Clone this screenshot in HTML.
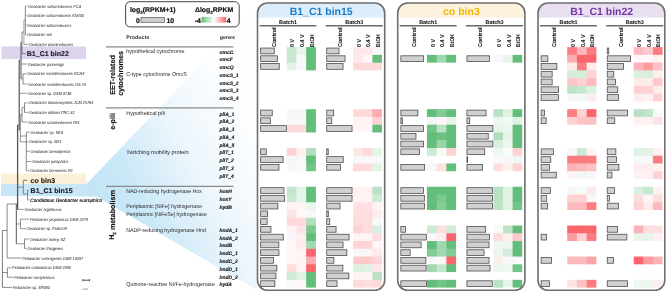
<!DOCTYPE html><html><head><meta charset="utf-8"><title>Geobacter expression</title>
<style>html,body{margin:0;padding:0;background:#fff;}svg{display:block;} text{font-family:'Liberation Sans', Arial, sans-serif;text-rendering:geometricPrecision;}</style></head><body>
<svg width="667" height="294" viewBox="0 0 667 294">
<defs><linearGradient id="wedge" gradientUnits="userSpaceOnUse" x1="95" y1="200" x2="250" y2="120"><stop offset="0" stop-color="#c4e5f6"/><stop offset="0.2" stop-color="#c8e7f7"/><stop offset="0.6" stop-color="#edf6fc"/><stop offset="1" stop-color="#fdfeff"/></linearGradient><linearGradient id="leg" x1="0" y1="0" x2="1" y2="0"><stop offset="0" stop-color="#62be7a"/><stop offset="0.5" stop-color="#ffffff"/><stop offset="1" stop-color="#fa666c"/></linearGradient></defs>
<rect x="1.5" y="46.4" width="84.5" height="12.7" fill="#ddd4ec"/>
<rect x="1" y="173.6" width="85.2" height="10.6" fill="#fdf0d8"/>
<polygon points="1,184.2 86.2,184.2 257,6 257,290 97,196.8 1,195.8" fill="url(#wedge)"/>
<rect x="1" y="184.2" width="86" height="11.6" fill="#c7e6f7"/>
<line x1="25.3" y1="6.1" x2="25.3" y2="34.9" stroke="#6c6c6c" stroke-width="0.80"/><line x1="25.3" y1="6.1" x2="27.6" y2="6.1" stroke="#6c6c6c" stroke-width="0.70"/><line x1="25.3" y1="15.6" x2="26.6" y2="15.6" stroke="#6c6c6c" stroke-width="0.70"/><line x1="25.3" y1="25.0" x2="26.6" y2="25.0" stroke="#6c6c6c" stroke-width="0.70"/><line x1="25.3" y1="34.9" x2="26.6" y2="34.9" stroke="#6c6c6c" stroke-width="0.70"/><line x1="23.9" y1="20.0" x2="23.9" y2="44.4" stroke="#8a8a8a" stroke-width="0.80"/><line x1="23.9" y1="20.0" x2="25.3" y2="20.0" stroke="#6c6c6c" stroke-width="0.70"/><line x1="23.9" y1="44.4" x2="28.4" y2="44.4" stroke="#6c6c6c" stroke-width="0.70"/><line x1="22.0" y1="32.0" x2="22.0" y2="53.6" stroke="#6c6c6c" stroke-width="0.80"/><line x1="22.0" y1="32.0" x2="23.9" y2="32.0" stroke="#6c6c6c" stroke-width="0.70"/><line x1="22.0" y1="53.6" x2="26.0" y2="53.6" stroke="#6c6c6c" stroke-width="0.70"/><line x1="21.0" y1="42.0" x2="21.0" y2="78.9" stroke="#555555" stroke-width="1.00"/><line x1="21.0" y1="42.0" x2="22.0" y2="42.0" stroke="#6c6c6c" stroke-width="0.70"/><line x1="21.0" y1="64.0" x2="27.3" y2="64.0" stroke="#6c6c6c" stroke-width="0.70"/><line x1="23.0" y1="73.7" x2="23.0" y2="84.0" stroke="#6c6c6c" stroke-width="0.80"/><line x1="21.0" y1="78.9" x2="23.0" y2="78.9" stroke="#6c6c6c" stroke-width="0.70"/><line x1="23.0" y1="73.7" x2="26.6" y2="73.7" stroke="#6c6c6c" stroke-width="0.70"/><line x1="23.0" y1="84.0" x2="27.6" y2="84.0" stroke="#6c6c6c" stroke-width="0.70"/><line x1="19.2" y1="60.0" x2="19.2" y2="130.6" stroke="#555555" stroke-width="1.20"/><line x1="19.2" y1="60.0" x2="21.0" y2="60.0" stroke="#6c6c6c" stroke-width="0.70"/><line x1="19.2" y1="93.3" x2="27.6" y2="93.3" stroke="#6c6c6c" stroke-width="0.70"/><line x1="24.5" y1="102.8" x2="24.5" y2="112.4" stroke="#6c6c6c" stroke-width="0.80"/><line x1="24.5" y1="102.8" x2="28.4" y2="102.8" stroke="#6c6c6c" stroke-width="0.70"/><line x1="24.5" y1="112.4" x2="28.4" y2="112.4" stroke="#6c6c6c" stroke-width="0.70"/><line x1="22.0" y1="107.6" x2="22.0" y2="122.0" stroke="#6c6c6c" stroke-width="0.80"/><line x1="22.0" y1="107.6" x2="24.5" y2="107.6" stroke="#6c6c6c" stroke-width="0.70"/><line x1="22.0" y1="122.0" x2="27.6" y2="122.0" stroke="#6c6c6c" stroke-width="0.70"/><line x1="20.4" y1="114.8" x2="20.4" y2="141.9" stroke="#8a8a8a" stroke-width="0.90"/><line x1="19.2" y1="114.8" x2="22.0" y2="114.8" stroke="#6c6c6c" stroke-width="0.70"/><line x1="20.4" y1="141.9" x2="28.4" y2="141.9" stroke="#6c6c6c" stroke-width="0.70"/><line x1="26.3" y1="132.1" x2="26.3" y2="170.8" stroke="#6c6c6c" stroke-width="0.80"/><line x1="26.3" y1="132.1" x2="29.9" y2="132.1" stroke="#6c6c6c" stroke-width="0.70"/><line x1="26.3" y1="151.2" x2="29.9" y2="151.2" stroke="#6c6c6c" stroke-width="0.70"/><line x1="26.3" y1="161.5" x2="31.5" y2="161.5" stroke="#6c6c6c" stroke-width="0.70"/><line x1="26.3" y1="170.8" x2="29.6" y2="170.8" stroke="#6c6c6c" stroke-width="0.70"/><line x1="20.4" y1="136.0" x2="26.3" y2="136.0" stroke="#6c6c6c" stroke-width="0.70"/><line x1="17.6" y1="125.0" x2="17.6" y2="209.4" stroke="#555555" stroke-width="1.30"/><line x1="17.6" y1="125.0" x2="19.2" y2="125.0" stroke="#6c6c6c" stroke-width="0.70"/><line x1="23.3" y1="180.3" x2="23.3" y2="194.0" stroke="#6c6c6c" stroke-width="0.80"/><line x1="23.3" y1="180.3" x2="27.2" y2="180.3" stroke="#555555" stroke-width="0.80"/><line x1="17.6" y1="187.3" x2="23.3" y2="187.3" stroke="#6c6c6c" stroke-width="0.70"/><line x1="23.3" y1="194.0" x2="27.6" y2="194.0" stroke="#6c6c6c" stroke-width="0.70"/><line x1="27.6" y1="190.2" x2="27.6" y2="199.9" stroke="#6c6c6c" stroke-width="0.80"/><line x1="27.6" y1="190.2" x2="28.6" y2="190.2" stroke="#6c6c6c" stroke-width="0.70"/><line x1="27.6" y1="199.9" x2="29.4" y2="199.9" stroke="#6c6c6c" stroke-width="0.70"/><line x1="16.3" y1="204.0" x2="16.3" y2="243.8" stroke="#555555" stroke-width="1.00"/><line x1="7.1" y1="204.0" x2="17.6" y2="204.0" stroke="#6c6c6c" stroke-width="0.80"/><line x1="16.3" y1="209.4" x2="23.8" y2="209.4" stroke="#6c6c6c" stroke-width="0.70"/><line x1="20.4" y1="219.1" x2="20.4" y2="228.7" stroke="#6c6c6c" stroke-width="0.80"/><line x1="20.4" y1="219.1" x2="29.2" y2="219.1" stroke="#6c6c6c" stroke-width="0.70"/><line x1="20.4" y1="228.7" x2="26.6" y2="228.7" stroke="#6c6c6c" stroke-width="0.70"/><line x1="16.3" y1="224.0" x2="20.4" y2="224.0" stroke="#6c6c6c" stroke-width="0.70"/><line x1="16.3" y1="243.8" x2="24.5" y2="243.8" stroke="#6c6c6c" stroke-width="0.70"/><line x1="24.5" y1="239.0" x2="24.5" y2="248.4" stroke="#6c6c6c" stroke-width="0.80"/><line x1="24.5" y1="239.0" x2="29.2" y2="239.0" stroke="#6c6c6c" stroke-width="0.70"/><line x1="24.5" y1="248.4" x2="26.9" y2="248.4" stroke="#6c6c6c" stroke-width="0.70"/><line x1="7.1" y1="204.0" x2="7.1" y2="258.0" stroke="#8a8a8a" stroke-width="1.00"/><line x1="7.1" y1="258.0" x2="21.5" y2="258.0" stroke="#8a8a8a" stroke-width="1.00"/><line x1="2.4" y1="230.5" x2="2.4" y2="287.4" stroke="#6c6c6c" stroke-width="0.90"/><line x1="2.4" y1="230.5" x2="7.1" y2="230.5" stroke="#6c6c6c" stroke-width="0.80"/><line x1="2.4" y1="272.5" x2="7.4" y2="272.5" stroke="#6c6c6c" stroke-width="0.80"/><line x1="7.4" y1="267.8" x2="7.4" y2="277.3" stroke="#6c6c6c" stroke-width="0.80"/><line x1="7.4" y1="267.8" x2="11.6" y2="267.8" stroke="#6c6c6c" stroke-width="0.70"/><line x1="7.4" y1="277.3" x2="13.5" y2="277.3" stroke="#6c6c6c" stroke-width="0.70"/><line x1="2.4" y1="287.4" x2="12.1" y2="287.4" stroke="#6c6c6c" stroke-width="0.80"/>
<line x1="82.6" y1="280.2" x2="89.7" y2="280.2" stroke="#222" stroke-width="0.8"/><line x1="82.8" y1="279" x2="82.8" y2="281.4" stroke="#222" stroke-width="0.6"/><line x1="89.5" y1="279" x2="89.5" y2="281.4" stroke="#222" stroke-width="0.6"/>
<text x="82.6" y="289.5" font-size="2.6" fill="#444">0.05</text>
<text x="28.3" y="7.6" font-size="4.3" font-style="italic" fill="#222" textLength="52.9" lengthAdjust="spacingAndGlyphs">Geobacter sulfurreducens PCA</text>
<text x="27.3" y="17.1" font-size="4.3" font-style="italic" fill="#222" textLength="56.7" lengthAdjust="spacingAndGlyphs">Geobacter sulfurreducens KN400</text>
<text x="27.3" y="26.5" font-size="4.3" font-style="italic" fill="#222" textLength="44.0" lengthAdjust="spacingAndGlyphs">Geobacter sulfurreducens</text>
<text x="27.3" y="36.4" font-size="4.3" font-style="italic" fill="#222" textLength="24.6" lengthAdjust="spacingAndGlyphs">Geobacter soli</text>
<text x="29.1" y="45.9" font-size="4.3" font-style="italic" fill="#222" textLength="44.0" lengthAdjust="spacingAndGlyphs">Geobacter anodireducens</text>
<text x="26.8" y="56.1" font-size="7" font-weight="bold" fill="#1e1e2a" stroke="#1e1e2a" stroke-width="0.15">B1_C1 bin22</text>
<text x="28.0" y="65.5" font-size="4.3" font-style="italic" fill="#222" textLength="35.9" lengthAdjust="spacingAndGlyphs">Geobacter pickeringii</text>
<text x="27.3" y="75.2" font-size="4.3" font-style="italic" fill="#222" textLength="57.1" lengthAdjust="spacingAndGlyphs">Geobacter metallireducens RCH3</text>
<text x="28.3" y="85.5" font-size="4.3" font-style="italic" fill="#222" textLength="57.8" lengthAdjust="spacingAndGlyphs">Geobacter metallireducens GS-15</text>
<text x="28.3" y="94.8" font-size="4.3" font-style="italic" fill="#222" textLength="43.1" lengthAdjust="spacingAndGlyphs">Geobacter sp. DSM 9736</text>
<text x="29.1" y="104.3" font-size="4.3" font-style="italic" fill="#222" textLength="64.2" lengthAdjust="spacingAndGlyphs">Geobacter toluenoxydans JCM 15764</text>
<text x="29.1" y="113.9" font-size="4.3" font-style="italic" fill="#222" textLength="45.5" lengthAdjust="spacingAndGlyphs">Geobacter daltonii FRC-32</text>
<text x="28.3" y="123.5" font-size="4.3" font-style="italic" fill="#222" textLength="51.0" lengthAdjust="spacingAndGlyphs">Geobacter uraniireducens Rf4</text>
<text x="30.6" y="133.6" font-size="4.3" font-style="italic" fill="#222" textLength="32.5" lengthAdjust="spacingAndGlyphs">Geobacter sp. M18</text>
<text x="29.1" y="143.4" font-size="4.3" font-style="italic" fill="#222" textLength="32.5" lengthAdjust="spacingAndGlyphs">Geobacter sp. M21</text>
<text x="30.6" y="152.7" font-size="4.3" font-style="italic" fill="#222" textLength="39.9" lengthAdjust="spacingAndGlyphs">Geobacter bemidjiensis</text>
<text x="32.2" y="163.0" font-size="4.3" font-style="italic" fill="#222" textLength="36.1" lengthAdjust="spacingAndGlyphs">Geobacter pelophilus</text>
<text x="30.3" y="172.3" font-size="4.3" font-style="italic" fill="#222" textLength="42.5" lengthAdjust="spacingAndGlyphs">Geobacter bremensis R1</text>
<text x="30.6" y="182.9" font-size="7" font-weight="bold" fill="#2a2418" stroke="#2a2418" stroke-width="0.15">co bin3</text>
<text x="30.6" y="192.7" font-size="7" font-weight="bold" fill="#1e1e2a" stroke="#1e1e2a" stroke-width="0.15">B1_C1 bin15</text>
<text x="30.2" y="201.6" font-size="4.8" font-style="italic" fill="#000" stroke="#000" stroke-width="0.12">Candidatus Geobacter eutrophica</text>
<text x="24.5" y="210.9" font-size="4.3" font-style="italic" fill="#222" textLength="37.2" lengthAdjust="spacingAndGlyphs">Geobacter argillaceus</text>
<text x="29.9" y="220.6" font-size="4.3" font-style="italic" fill="#222" textLength="58.0" lengthAdjust="spacingAndGlyphs">Pelobacter propionicus DSM 2379</text>
<text x="27.3" y="230.2" font-size="4.3" font-style="italic" fill="#222" textLength="39.5" lengthAdjust="spacingAndGlyphs">Geobacter sp. FeAm09</text>
<text x="29.9" y="240.5" font-size="4.3" font-style="italic" fill="#222" textLength="35.5" lengthAdjust="spacingAndGlyphs">Geobacter lovleyi SZ</text>
<text x="27.6" y="249.9" font-size="4.3" font-style="italic" fill="#222" textLength="35.5" lengthAdjust="spacingAndGlyphs">Geobacter thiogenes</text>
<text x="22.2" y="259.5" font-size="4.3" font-style="italic" fill="#222" textLength="61.0" lengthAdjust="spacingAndGlyphs">Pelobacter selenigenes DSM 18267</text>
<text x="12.3" y="269.3" font-size="4.3" font-style="italic" fill="#222" textLength="58.6" lengthAdjust="spacingAndGlyphs">Pelobacter carbinolicus DSM 2380</text>
<text x="14.2" y="278.8" font-size="4.3" font-style="italic" fill="#222" textLength="40.4" lengthAdjust="spacingAndGlyphs">Pelobacter acetylenicus</text>
<text x="12.8" y="288.9" font-size="4.3" font-style="italic" fill="#222" textLength="37.2" lengthAdjust="spacingAndGlyphs">Pelobacter sp. SFB93</text>
<rect x="125.6" y="1.7" width="113.6" height="25.2" rx="4.5" ry="4.5" fill="#fff" stroke="#444" stroke-width="1"/>
<text x="129.9" y="11.9" font-size="6.9" font-weight="bold" fill="#111" stroke="#111" stroke-width="0.2">log<tspan font-size="4.6" dy="1.7">2</tspan><tspan dy="-1.7">(RPKM+1)</tspan></text>
<text x="195" y="11.9" font-size="6.9" font-weight="bold" fill="#111" stroke="#111" stroke-width="0.2">Δlog<tspan font-size="4.6" dy="1.7">2</tspan><tspan dy="-1.7">RPKM</tspan></text>
<text x="136.0" y="22.9" font-size="6.9" font-weight="bold" fill="#111" stroke="#111" stroke-width="0.2">0</text>
<rect x="141" y="17.5" width="23.6" height="4.8" fill="#cfcfcf" stroke="#555" stroke-width="0.7"/>
<text x="166.5" y="22.9" font-size="6.9" font-weight="bold" fill="#111" stroke="#111" stroke-width="0.2">10</text>
<text x="194.8" y="22.9" font-size="6.9" font-weight="bold" fill="#111" stroke="#111" stroke-width="0.2">-4</text>
<rect x="201.5" y="16.9" width="24.6" height="5.7" fill="url(#leg)"/>
<text x="226.8" y="22.9" font-size="6.9" font-weight="bold" fill="#111" stroke="#111" stroke-width="0.2">4</text>
<text x="126.2" y="39.2" font-size="5.3" font-weight="bold" fill="#333">Products</text>
<text x="219.7" y="39.2" font-size="5.3" font-weight="bold" fill="#333">genes</text>
<line x1="106" y1="46.8" x2="233.5" y2="46.8" stroke="#8a8a8a" stroke-width="1.2"/>
<line x1="106" y1="107.8" x2="233.5" y2="107.8" stroke="#8a8a8a" stroke-width="1.2"/>
<line x1="106" y1="186.4" x2="233.5" y2="186.4" stroke="#8a8a8a" stroke-width="1.2"/>
<text transform="translate(112.4 75.0) rotate(-90)" text-anchor="middle" font-size="7.2" font-weight="bold" fill="#111" stroke="#111" stroke-width="0.15" dominant-baseline="central">EET-related</text>
<text transform="translate(120.4 73.4) rotate(-90)" text-anchor="middle" font-size="7.2" font-weight="bold" fill="#111" stroke="#111" stroke-width="0.15" dominant-baseline="central">cytochromes</text>
<text transform="translate(112.3 121.4) rotate(-90)" text-anchor="middle" font-size="7.2" font-weight="bold" fill="#111" stroke="#111" stroke-width="0.15" dominant-baseline="central">e-pili</text>
<text transform="translate(111.8 215.0) rotate(-90)" text-anchor="middle" font-size="7.2" font-weight="bold" fill="#111" stroke="#111" stroke-width="0.15" dominant-baseline="central">H<tspan font-size="4.6" dy="1.8">2</tspan><tspan dy="-1.8"> metabolism</tspan></text>
<text x="126.2" y="53.1" font-size="5.6" fill="#2a2a2a" textLength="58.4" lengthAdjust="spacingAndGlyphs">hypothetical cytochrome</text>
<text x="126.2" y="76.4" font-size="5.6" fill="#2a2a2a" textLength="60.5" lengthAdjust="spacingAndGlyphs">C-type cytochrome OmcS</text>
<text x="126.2" y="115.1" font-size="5.6" fill="#2a2a2a" textLength="38.7" lengthAdjust="spacingAndGlyphs">Hypothetical pili</text>
<text x="126.2" y="153.9" font-size="5.6" fill="#2a2a2a" textLength="62.5" lengthAdjust="spacingAndGlyphs">Twitching mobility protein</text>
<text x="126.2" y="192.7" font-size="5.6" fill="#2a2a2a" textLength="75.7" lengthAdjust="spacingAndGlyphs">NAD-reducing hydrogenase Hox</text>
<text x="126.2" y="208.2" font-size="5.6" fill="#2a2a2a" textLength="75.7" lengthAdjust="spacingAndGlyphs">Periplasmic [NiFe] hydrogenase</text>
<text x="126.2" y="216.0" font-size="5.6" fill="#2a2a2a" textLength="80.7" lengthAdjust="spacingAndGlyphs">Periplasmic [NiFeSe] hydrogenase</text>
<text x="126.2" y="231.5" font-size="5.6" fill="#2a2a2a" textLength="79.7" lengthAdjust="spacingAndGlyphs">NADP-reducing hydrogenase Hnd</text>
<text x="126.2" y="285.8" font-size="5.6" fill="#2a2a2a" textLength="88.5" lengthAdjust="spacingAndGlyphs">Quinone-reactive Ni/Fe-hydrogenase</text>
<text x="219.4" y="53.5" font-size="5.0" font-weight="bold" font-style="italic" fill="#111" stroke="#111" stroke-width="0.1">omcC</text>
<text x="219.4" y="61.2" font-size="5.0" font-weight="bold" font-style="italic" fill="#111" stroke="#111" stroke-width="0.1">omcF</text>
<text x="219.4" y="69.0" font-size="5.0" font-weight="bold" font-style="italic" fill="#111" stroke="#111" stroke-width="0.1">omcQ</text>
<text x="219.4" y="76.8" font-size="5.0" font-weight="bold" font-style="italic" fill="#111" stroke="#111" stroke-width="0.1">omcS_1</text>
<text x="219.4" y="84.5" font-size="5.0" font-weight="bold" font-style="italic" fill="#111" stroke="#111" stroke-width="0.1">omcS_2</text>
<text x="219.4" y="92.3" font-size="5.0" font-weight="bold" font-style="italic" fill="#111" stroke="#111" stroke-width="0.1">omcS_3</text>
<text x="219.4" y="100.0" font-size="5.0" font-weight="bold" font-style="italic" fill="#111" stroke="#111" stroke-width="0.1">omcS_4</text>
<text x="219.4" y="115.5" font-size="5.0" font-weight="bold" font-style="italic" fill="#111" stroke="#111" stroke-width="0.1">pilA_1</text>
<text x="219.4" y="123.3" font-size="5.0" font-weight="bold" font-style="italic" fill="#111" stroke="#111" stroke-width="0.1">pilA_2</text>
<text x="219.4" y="131.1" font-size="5.0" font-weight="bold" font-style="italic" fill="#111" stroke="#111" stroke-width="0.1">pilA_3</text>
<text x="219.4" y="138.8" font-size="5.0" font-weight="bold" font-style="italic" fill="#111" stroke="#111" stroke-width="0.1">pilA_4</text>
<text x="219.4" y="146.6" font-size="5.0" font-weight="bold" font-style="italic" fill="#111" stroke="#111" stroke-width="0.1">pilA_5</text>
<text x="219.4" y="154.3" font-size="5.0" font-weight="bold" font-style="italic" fill="#111" stroke="#111" stroke-width="0.1">pilT_1</text>
<text x="219.4" y="162.1" font-size="5.0" font-weight="bold" font-style="italic" fill="#111" stroke="#111" stroke-width="0.1">pilT_2</text>
<text x="219.4" y="169.8" font-size="5.0" font-weight="bold" font-style="italic" fill="#111" stroke="#111" stroke-width="0.1">pilT_3</text>
<text x="219.4" y="177.6" font-size="5.0" font-weight="bold" font-style="italic" fill="#111" stroke="#111" stroke-width="0.1">pilT_4</text>
<text x="219.4" y="193.1" font-size="5.0" font-weight="bold" font-style="italic" fill="#111" stroke="#111" stroke-width="0.1">hoxH</text>
<text x="219.4" y="200.9" font-size="5.0" font-weight="bold" font-style="italic" fill="#111" stroke="#111" stroke-width="0.1">hoxY</text>
<text x="219.4" y="208.6" font-size="5.0" font-weight="bold" font-style="italic" fill="#111" stroke="#111" stroke-width="0.1">hydB</text>
<text x="219.4" y="231.9" font-size="5.0" font-weight="bold" font-style="italic" fill="#111" stroke="#111" stroke-width="0.1">hndA_1</text>
<text x="219.4" y="239.7" font-size="5.0" font-weight="bold" font-style="italic" fill="#111" stroke="#111" stroke-width="0.1">hndA_2</text>
<text x="219.4" y="247.4" font-size="5.0" font-weight="bold" font-style="italic" fill="#111" stroke="#111" stroke-width="0.1">hndB</text>
<text x="219.4" y="255.2" font-size="5.0" font-weight="bold" font-style="italic" fill="#111" stroke="#111" stroke-width="0.1">hndC_1</text>
<text x="219.4" y="262.9" font-size="5.0" font-weight="bold" font-style="italic" fill="#111" stroke="#111" stroke-width="0.1">hndC_2</text>
<text x="219.4" y="270.7" font-size="5.0" font-weight="bold" font-style="italic" fill="#111" stroke="#111" stroke-width="0.1">hndD_1</text>
<text x="219.4" y="278.5" font-size="5.0" font-weight="bold" font-style="italic" fill="#111" stroke="#111" stroke-width="0.1">hndD_2</text>
<text x="219.4" y="286.2" font-size="5.0" font-weight="bold" font-style="italic" fill="#111" stroke="#111" stroke-width="0.1">hydA</text>
<clipPath id="cp0"><rect x="257.5" y="3" width="127.2" height="287.3" rx="10" ry="10"/></clipPath>
<rect x="257.5" y="3" width="127.2" height="14.6" fill="#ddeefa" clip-path="url(#cp0)"/>
<text x="321.2" y="14.6" text-anchor="middle" font-size="10.5" font-weight="bold" fill="#1c7ccc">B1_C1 bin15</text>
<text x="288.0" y="23.6" text-anchor="middle" font-size="5.4" font-weight="bold" fill="#222" stroke="#222" stroke-width="0.08">Batch1</text>
<line x1="259.5" y1="25.7" x2="316.4" y2="25.7" stroke="#6a6a6a" stroke-width="1.4"/>
<text transform="translate(274.9 46.9) rotate(-90)" font-size="5.7" font-weight="bold" fill="#1a1a1a" stroke="#1a1a1a" stroke-width="0.1" dominant-baseline="central" textLength="19.4" lengthAdjust="spacingAndGlyphs">Control</text>
<text transform="translate(293.3 46.9) rotate(-90)" font-size="5.7" font-weight="bold" fill="#1a1a1a" stroke="#1a1a1a" stroke-width="0.1" dominant-baseline="central" textLength="7.8" lengthAdjust="spacingAndGlyphs">0 V</text>
<text transform="translate(303.0 46.9) rotate(-90)" font-size="5.7" font-weight="bold" fill="#1a1a1a" stroke="#1a1a1a" stroke-width="0.1" dominant-baseline="central" textLength="12.5" lengthAdjust="spacingAndGlyphs">0.4 V</text>
<text transform="translate(312.7 46.9) rotate(-90)" font-size="5.7" font-weight="bold" fill="#1a1a1a" stroke="#1a1a1a" stroke-width="0.1" dominant-baseline="central" textLength="12.6" lengthAdjust="spacingAndGlyphs">EtOH</text>
<rect x="286.70" y="47.10" width="10.33" height="8.36" fill="#c6e8cf"/>
<rect x="296.43" y="47.10" width="10.33" height="8.36" fill="#e7f5eb"/>
<rect x="306.16" y="47.10" width="9.73" height="8.36" fill="#62be7a"/>
<rect x="260.65" y="48.05" width="13.60" height="5.75" fill="#d0d0d0" stroke="#4e4e4e" stroke-width="0.8"/>
<rect x="286.70" y="54.86" width="10.33" height="8.36" fill="#c6e8cf"/>
<rect x="296.43" y="54.86" width="10.33" height="8.36" fill="#f8f8fb"/>
<rect x="306.16" y="54.86" width="9.73" height="8.36" fill="#62be7a"/>
<rect x="260.65" y="55.81" width="16.70" height="5.75" fill="#d0d0d0" stroke="#4e4e4e" stroke-width="0.8"/>
<rect x="286.70" y="62.62" width="10.33" height="7.76" fill="#e3f3e7"/>
<rect x="296.43" y="62.62" width="10.33" height="7.76" fill="#f8f8fb"/>
<rect x="306.16" y="62.62" width="9.73" height="7.76" fill="#62be7a"/>
<rect x="260.65" y="63.57" width="18.60" height="5.75" fill="#d0d0d0" stroke="#4e4e4e" stroke-width="0.8"/>
<rect x="286.70" y="109.16" width="10.33" height="8.36" fill="#f8f8fb"/>
<rect x="296.43" y="109.16" width="10.33" height="8.36" fill="#f8f8fb"/>
<rect x="306.16" y="109.16" width="9.73" height="8.36" fill="#62be7a"/>
<rect x="260.65" y="110.11" width="11.60" height="5.75" fill="#d0d0d0" stroke="#4e4e4e" stroke-width="0.8"/>
<rect x="286.70" y="116.92" width="10.33" height="8.36" fill="#f8f8fb"/>
<rect x="296.43" y="116.92" width="10.33" height="8.36" fill="#f8f8fb"/>
<rect x="306.16" y="116.92" width="9.73" height="8.36" fill="#62be7a"/>
<rect x="260.65" y="117.87" width="9.70" height="5.75" fill="#d0d0d0" stroke="#4e4e4e" stroke-width="0.8"/>
<rect x="286.70" y="124.68" width="10.33" height="7.76" fill="#fed9da"/>
<rect x="296.43" y="124.68" width="10.33" height="7.76" fill="#fed9da"/>
<rect x="306.16" y="124.68" width="9.73" height="7.76" fill="#62be7a"/>
<rect x="260.65" y="125.63" width="25.70" height="5.75" fill="#d0d0d0" stroke="#4e4e4e" stroke-width="0.8"/>
<rect x="286.70" y="147.95" width="10.33" height="8.36" fill="#fed1d3"/>
<rect x="296.43" y="147.95" width="10.33" height="8.36" fill="#fef0f0"/>
<rect x="306.16" y="147.95" width="9.73" height="8.36" fill="#b0debc"/>
<rect x="260.65" y="148.90" width="5.60" height="5.75" fill="#d0d0d0" stroke="#4e4e4e" stroke-width="0.8"/>
<rect x="286.70" y="155.71" width="10.33" height="8.36" fill="#f8f8fb"/>
<rect x="296.43" y="155.71" width="10.33" height="8.36" fill="#f8f8fb"/>
<rect x="306.16" y="155.71" width="9.73" height="8.36" fill="#62be7a"/>
<rect x="260.65" y="156.66" width="22.50" height="5.75" fill="#d0d0d0" stroke="#4e4e4e" stroke-width="0.8"/>
<rect x="286.70" y="163.47" width="10.33" height="7.76" fill="#f8f8fb"/>
<rect x="296.43" y="163.47" width="10.33" height="7.76" fill="#fff6f6"/>
<rect x="306.16" y="163.47" width="9.73" height="7.76" fill="#72c487"/>
<rect x="260.65" y="164.42" width="18.30" height="5.75" fill="#d0d0d0" stroke="#4e4e4e" stroke-width="0.8"/>
<rect x="286.70" y="186.74" width="10.33" height="8.36" fill="#c3e6cc"/>
<rect x="296.43" y="186.74" width="10.33" height="8.36" fill="#e6f5ea"/>
<rect x="306.16" y="186.74" width="9.73" height="8.36" fill="#62be7a"/>
<rect x="260.65" y="187.69" width="23.30" height="5.75" fill="#d0d0d0" stroke="#4e4e4e" stroke-width="0.8"/>
<rect x="286.70" y="194.50" width="10.33" height="8.36" fill="#cbead3"/>
<rect x="296.43" y="194.50" width="10.33" height="8.36" fill="#e7f5eb"/>
<rect x="306.16" y="194.50" width="9.73" height="8.36" fill="#62be7a"/>
<rect x="260.65" y="195.45" width="24.00" height="5.75" fill="#d0d0d0" stroke="#4e4e4e" stroke-width="0.8"/>
<rect x="286.70" y="202.26" width="10.33" height="8.36" fill="#fff3f3"/>
<rect x="296.43" y="202.26" width="10.33" height="8.36" fill="#fff3f3"/>
<rect x="306.16" y="202.26" width="9.73" height="8.36" fill="#e9f6ec"/>
<rect x="260.65" y="203.21" width="17.20" height="5.75" fill="#d0d0d0" stroke="#4e4e4e" stroke-width="0.8"/>
<rect x="286.70" y="210.02" width="10.33" height="8.36" fill="#fee3e5"/>
<rect x="296.43" y="210.02" width="10.33" height="8.36" fill="#fff7f8"/>
<rect x="306.16" y="210.02" width="9.73" height="8.36" fill="#f8f8fb"/>
<rect x="260.65" y="210.97" width="6.90" height="5.75" fill="#d0d0d0" stroke="#4e4e4e" stroke-width="0.8"/>
<rect x="286.70" y="217.78" width="10.33" height="8.36" fill="#fed9da"/>
<rect x="296.43" y="217.78" width="10.33" height="8.36" fill="#fed9da"/>
<rect x="306.16" y="217.78" width="9.73" height="8.36" fill="#b0debc"/>
<rect x="260.65" y="218.73" width="6.50" height="5.75" fill="#d0d0d0" stroke="#4e4e4e" stroke-width="0.8"/>
<rect x="286.70" y="225.53" width="10.33" height="8.36" fill="#fff3f3"/>
<rect x="296.43" y="225.53" width="10.33" height="8.36" fill="#fee3e5"/>
<rect x="306.16" y="225.53" width="9.73" height="8.36" fill="#7ac88e"/>
<rect x="260.65" y="226.48" width="10.30" height="5.75" fill="#d0d0d0" stroke="#4e4e4e" stroke-width="0.8"/>
<rect x="286.70" y="233.29" width="10.33" height="8.36" fill="#f8f8fb"/>
<rect x="296.43" y="233.29" width="10.33" height="8.36" fill="#feeded"/>
<rect x="306.16" y="233.29" width="9.73" height="8.36" fill="#62be7a"/>
<rect x="260.65" y="234.24" width="22.60" height="5.75" fill="#d0d0d0" stroke="#4e4e4e" stroke-width="0.8"/>
<rect x="286.70" y="241.05" width="10.33" height="8.36" fill="#fff6f6"/>
<rect x="296.43" y="241.05" width="10.33" height="8.36" fill="#feeaea"/>
<rect x="306.16" y="241.05" width="9.73" height="8.36" fill="#a1d8af"/>
<rect x="260.65" y="242.00" width="18.20" height="5.75" fill="#d0d0d0" stroke="#4e4e4e" stroke-width="0.8"/>
<rect x="286.70" y="248.81" width="10.33" height="8.36" fill="#fff6f6"/>
<rect x="296.43" y="248.81" width="10.33" height="8.36" fill="#fff3f3"/>
<rect x="306.16" y="248.81" width="9.73" height="8.36" fill="#fa666c"/>
<rect x="260.65" y="249.76" width="18.30" height="5.75" fill="#d0d0d0" stroke="#4e4e4e" stroke-width="0.8"/>
<rect x="286.70" y="256.57" width="10.33" height="8.36" fill="#fff6f6"/>
<rect x="296.43" y="256.57" width="10.33" height="8.36" fill="#fff3f3"/>
<rect x="306.16" y="256.57" width="9.73" height="8.36" fill="#fcabae"/>
<rect x="260.65" y="257.52" width="12.80" height="5.75" fill="#d0d0d0" stroke="#4e4e4e" stroke-width="0.8"/>
<rect x="286.70" y="264.32" width="10.33" height="8.36" fill="#fedddf"/>
<rect x="296.43" y="264.32" width="10.33" height="8.36" fill="#fff3f3"/>
<rect x="306.16" y="264.32" width="9.73" height="8.36" fill="#fa666c"/>
<rect x="260.65" y="265.27" width="16.20" height="5.75" fill="#d0d0d0" stroke="#4e4e4e" stroke-width="0.8"/>
<rect x="286.70" y="272.08" width="10.33" height="8.36" fill="#cdead4"/>
<rect x="296.43" y="272.08" width="10.33" height="8.36" fill="#e0f2e4"/>
<rect x="306.16" y="272.08" width="9.73" height="8.36" fill="#62be7a"/>
<rect x="260.65" y="273.03" width="15.30" height="5.75" fill="#d0d0d0" stroke="#4e4e4e" stroke-width="0.8"/>
<rect x="286.70" y="279.84" width="10.33" height="7.76" fill="#f8f8fb"/>
<rect x="296.43" y="279.84" width="10.33" height="7.76" fill="#fff6f6"/>
<rect x="306.16" y="279.84" width="9.73" height="7.76" fill="#62be7a"/>
<rect x="260.65" y="280.79" width="14.20" height="5.75" fill="#d0d0d0" stroke="#4e4e4e" stroke-width="0.8"/>
<text x="354.3" y="23.6" text-anchor="middle" font-size="5.4" font-weight="bold" fill="#222" stroke="#222" stroke-width="0.08">Batch3</text>
<line x1="325.7" y1="25.7" x2="382.8" y2="25.7" stroke="#6a6a6a" stroke-width="1.4"/>
<text transform="translate(341.0 46.9) rotate(-90)" font-size="5.7" font-weight="bold" fill="#1a1a1a" stroke="#1a1a1a" stroke-width="0.1" dominant-baseline="central" textLength="19.4" lengthAdjust="spacingAndGlyphs">Control</text>
<text transform="translate(359.7 46.9) rotate(-90)" font-size="5.7" font-weight="bold" fill="#1a1a1a" stroke="#1a1a1a" stroke-width="0.1" dominant-baseline="central" textLength="7.8" lengthAdjust="spacingAndGlyphs">0 V</text>
<text transform="translate(369.3 46.9) rotate(-90)" font-size="5.7" font-weight="bold" fill="#1a1a1a" stroke="#1a1a1a" stroke-width="0.1" dominant-baseline="central" textLength="12.5" lengthAdjust="spacingAndGlyphs">0.4 V</text>
<text transform="translate(378.9 46.9) rotate(-90)" font-size="5.7" font-weight="bold" fill="#1a1a1a" stroke="#1a1a1a" stroke-width="0.1" dominant-baseline="central" textLength="12.6" lengthAdjust="spacingAndGlyphs">EtOH</text>
<rect x="353.20" y="47.10" width="10.20" height="8.36" fill="#fee8e9"/>
<rect x="362.80" y="47.10" width="10.20" height="8.36" fill="#fee8e9"/>
<rect x="372.40" y="47.10" width="9.60" height="8.36" fill="#f8f8fb"/>
<rect x="326.75" y="48.05" width="12.30" height="5.75" fill="#d0d0d0" stroke="#4e4e4e" stroke-width="0.8"/>
<rect x="353.20" y="54.86" width="10.20" height="8.36" fill="#fee8e9"/>
<rect x="362.80" y="54.86" width="10.20" height="8.36" fill="#fff6f6"/>
<rect x="372.40" y="54.86" width="9.60" height="8.36" fill="#62be7a"/>
<rect x="326.75" y="55.81" width="18.30" height="5.75" fill="#d0d0d0" stroke="#4e4e4e" stroke-width="0.8"/>
<rect x="353.20" y="62.62" width="10.20" height="7.76" fill="#fed9da"/>
<rect x="362.80" y="62.62" width="10.20" height="7.76" fill="#fed9da"/>
<rect x="372.40" y="62.62" width="9.60" height="7.76" fill="#fed9da"/>
<rect x="326.75" y="63.57" width="16.30" height="5.75" fill="#d0d0d0" stroke="#4e4e4e" stroke-width="0.8"/>
<rect x="353.20" y="109.16" width="10.20" height="8.36" fill="#fed9da"/>
<rect x="362.80" y="109.16" width="10.20" height="8.36" fill="#fed9da"/>
<rect x="372.40" y="109.16" width="9.60" height="8.36" fill="#fcabae"/>
<rect x="326.75" y="110.11" width="6.90" height="5.75" fill="#d0d0d0" stroke="#4e4e4e" stroke-width="0.8"/>
<rect x="353.20" y="116.92" width="10.20" height="8.36" fill="#fff3f3"/>
<rect x="362.80" y="116.92" width="10.20" height="8.36" fill="#fff3f3"/>
<rect x="372.40" y="116.92" width="9.60" height="8.36" fill="#fed1d3"/>
<rect x="326.75" y="117.87" width="5.00" height="5.75" fill="#d0d0d0" stroke="#4e4e4e" stroke-width="0.8"/>
<rect x="353.20" y="124.68" width="10.20" height="7.76" fill="#fff3f3"/>
<rect x="362.80" y="124.68" width="10.20" height="7.76" fill="#f8f8fb"/>
<rect x="372.40" y="124.68" width="9.60" height="7.76" fill="#62be7a"/>
<rect x="326.75" y="125.63" width="25.30" height="5.75" fill="#d0d0d0" stroke="#4e4e4e" stroke-width="0.8"/>
<rect x="353.20" y="147.95" width="10.20" height="8.36" fill="#fee5e6"/>
<rect x="362.80" y="147.95" width="10.20" height="8.36" fill="#fed9da"/>
<rect x="372.40" y="147.95" width="9.60" height="8.36" fill="#e6f5ea"/>
<rect x="326.75" y="148.90" width="1.50" height="5.75" fill="#d0d0d0" stroke="#4e4e4e" stroke-width="0.8"/>
<rect x="353.20" y="155.71" width="10.20" height="8.36" fill="#f8f8fb"/>
<rect x="362.80" y="155.71" width="10.20" height="8.36" fill="#f8f8fb"/>
<rect x="372.40" y="155.71" width="9.60" height="8.36" fill="#f6fbf7"/>
<rect x="326.75" y="156.66" width="16.50" height="5.75" fill="#d0d0d0" stroke="#4e4e4e" stroke-width="0.8"/>
<rect x="353.20" y="163.47" width="10.20" height="7.76" fill="#fed9da"/>
<rect x="362.80" y="163.47" width="10.20" height="7.76" fill="#fedddf"/>
<rect x="372.40" y="163.47" width="9.60" height="7.76" fill="#e3f3e7"/>
<rect x="326.75" y="164.42" width="13.70" height="5.75" fill="#d0d0d0" stroke="#4e4e4e" stroke-width="0.8"/>
<rect x="353.20" y="186.74" width="10.20" height="8.36" fill="#fff1f2"/>
<rect x="362.80" y="186.74" width="10.20" height="8.36" fill="#fff1f2"/>
<rect x="372.40" y="186.74" width="9.60" height="8.36" fill="#b8e2c3"/>
<rect x="326.75" y="187.69" width="25.30" height="5.75" fill="#d0d0d0" stroke="#4e4e4e" stroke-width="0.8"/>
<rect x="353.20" y="194.50" width="10.20" height="8.36" fill="#fff3f3"/>
<rect x="362.80" y="194.50" width="10.20" height="8.36" fill="#fff3f3"/>
<rect x="372.40" y="194.50" width="9.60" height="8.36" fill="#cdead4"/>
<rect x="326.75" y="195.45" width="25.30" height="5.75" fill="#d0d0d0" stroke="#4e4e4e" stroke-width="0.8"/>
<rect x="353.20" y="202.26" width="10.20" height="8.36" fill="#fee0e2"/>
<rect x="362.80" y="202.26" width="10.20" height="8.36" fill="#fee0e2"/>
<rect x="372.40" y="202.26" width="9.60" height="8.36" fill="#fff4f5"/>
<rect x="326.75" y="203.21" width="13.30" height="5.75" fill="#d0d0d0" stroke="#4e4e4e" stroke-width="0.8"/>
<rect x="353.20" y="210.02" width="10.20" height="8.36" fill="#fedddf"/>
<rect x="362.80" y="210.02" width="10.20" height="8.36" fill="#fedddf"/>
<rect x="372.40" y="210.02" width="9.60" height="8.36" fill="#feebec"/>
<rect x="326.75" y="210.97" width="1.60" height="5.75" fill="#d0d0d0" stroke="#4e4e4e" stroke-width="0.8"/>
<rect x="353.20" y="217.78" width="10.20" height="8.36" fill="#fedddf"/>
<rect x="362.80" y="217.78" width="10.20" height="8.36" fill="#fedddf"/>
<rect x="372.40" y="217.78" width="9.60" height="8.36" fill="#f8f8fb"/>
<rect x="326.75" y="218.73" width="3.00" height="5.75" fill="#d0d0d0" stroke="#4e4e4e" stroke-width="0.8"/>
<rect x="353.20" y="225.53" width="10.20" height="8.36" fill="#fed1d3"/>
<rect x="362.80" y="225.53" width="10.20" height="8.36" fill="#fedddf"/>
<rect x="372.40" y="225.53" width="9.60" height="8.36" fill="#d9efdf"/>
<rect x="326.75" y="226.48" width="9.30" height="5.75" fill="#d0d0d0" stroke="#4e4e4e" stroke-width="0.8"/>
<rect x="353.20" y="233.29" width="10.20" height="8.36" fill="#fff3f3"/>
<rect x="362.80" y="233.29" width="10.20" height="8.36" fill="#fff3f3"/>
<rect x="372.40" y="233.29" width="9.60" height="8.36" fill="#fedddf"/>
<rect x="326.75" y="234.24" width="22.30" height="5.75" fill="#d0d0d0" stroke="#4e4e4e" stroke-width="0.8"/>
<rect x="353.20" y="241.05" width="10.20" height="8.36" fill="#fed4d6"/>
<rect x="362.80" y="241.05" width="10.20" height="8.36" fill="#fed4d6"/>
<rect x="372.40" y="241.05" width="9.60" height="8.36" fill="#fff6f6"/>
<rect x="326.75" y="242.00" width="16.30" height="5.75" fill="#d0d0d0" stroke="#4e4e4e" stroke-width="0.8"/>
<rect x="353.20" y="248.81" width="10.20" height="8.36" fill="#f8f8fb"/>
<rect x="362.80" y="248.81" width="10.20" height="8.36" fill="#f8f8fb"/>
<rect x="372.40" y="248.81" width="9.60" height="8.36" fill="#fee8e9"/>
<rect x="326.75" y="249.76" width="20.10" height="5.75" fill="#d0d0d0" stroke="#4e4e4e" stroke-width="0.8"/>
<rect x="353.20" y="256.57" width="10.20" height="8.36" fill="#fdc8ca"/>
<rect x="362.80" y="256.57" width="10.20" height="8.36" fill="#fdc8ca"/>
<rect x="372.40" y="256.57" width="9.60" height="8.36" fill="#fed4d6"/>
<rect x="326.75" y="257.52" width="7.10" height="5.75" fill="#d0d0d0" stroke="#4e4e4e" stroke-width="0.8"/>
<rect x="353.20" y="264.32" width="10.20" height="8.36" fill="#dcf1e2"/>
<rect x="362.80" y="264.32" width="10.20" height="8.36" fill="#e0f2e4"/>
<rect x="372.40" y="264.32" width="9.60" height="8.36" fill="#fee8e9"/>
<rect x="326.75" y="265.27" width="16.10" height="5.75" fill="#d0d0d0" stroke="#4e4e4e" stroke-width="0.8"/>
<rect x="353.20" y="272.08" width="10.20" height="8.36" fill="#fff3f3"/>
<rect x="362.80" y="272.08" width="10.20" height="8.36" fill="#fff3f3"/>
<rect x="372.40" y="272.08" width="9.60" height="8.36" fill="#b8e2c3"/>
<rect x="326.75" y="273.03" width="22.10" height="5.75" fill="#d0d0d0" stroke="#4e4e4e" stroke-width="0.8"/>
<rect x="353.20" y="279.84" width="10.20" height="7.76" fill="#fed9da"/>
<rect x="362.80" y="279.84" width="10.20" height="7.76" fill="#fedddf"/>
<rect x="372.40" y="279.84" width="9.60" height="7.76" fill="#fed9da"/>
<rect x="326.75" y="280.79" width="10.30" height="5.75" fill="#d0d0d0" stroke="#4e4e4e" stroke-width="0.8"/>
<rect x="257.5" y="3" width="127.2" height="287.3" rx="10" ry="10" fill="none" stroke="#6e6e6e" stroke-width="1.6"/>
<clipPath id="cp1"><rect x="397.7" y="3" width="127.2" height="287.3" rx="10" ry="10"/></clipPath>
<rect x="397.7" y="3" width="127.2" height="14.6" fill="#fdf3dc" clip-path="url(#cp1)"/>
<text x="461.4" y="14.6" text-anchor="middle" font-size="10.5" font-weight="bold" fill="#f2b400">co bin3</text>
<text x="428.2" y="23.6" text-anchor="middle" font-size="5.4" font-weight="bold" fill="#222" stroke="#222" stroke-width="0.08">Batch1</text>
<line x1="399.7" y1="25.7" x2="456.6" y2="25.7" stroke="#6a6a6a" stroke-width="1.4"/>
<text transform="translate(415.1 46.9) rotate(-90)" font-size="5.7" font-weight="bold" fill="#1a1a1a" stroke="#1a1a1a" stroke-width="0.1" dominant-baseline="central" textLength="19.4" lengthAdjust="spacingAndGlyphs">Control</text>
<text transform="translate(433.5 46.9) rotate(-90)" font-size="5.7" font-weight="bold" fill="#1a1a1a" stroke="#1a1a1a" stroke-width="0.1" dominant-baseline="central" textLength="7.8" lengthAdjust="spacingAndGlyphs">0 V</text>
<text transform="translate(443.2 46.9) rotate(-90)" font-size="5.7" font-weight="bold" fill="#1a1a1a" stroke="#1a1a1a" stroke-width="0.1" dominant-baseline="central" textLength="12.5" lengthAdjust="spacingAndGlyphs">0.4 V</text>
<text transform="translate(452.9 46.9) rotate(-90)" font-size="5.7" font-weight="bold" fill="#1a1a1a" stroke="#1a1a1a" stroke-width="0.1" dominant-baseline="central" textLength="12.6" lengthAdjust="spacingAndGlyphs">EtOH</text>
<rect x="426.90" y="54.86" width="10.33" height="7.76" fill="#62be7a"/>
<rect x="436.63" y="54.86" width="10.33" height="7.76" fill="#a1d8af"/>
<rect x="446.36" y="54.86" width="9.73" height="7.76" fill="#62be7a"/>
<rect x="400.85" y="55.81" width="22.80" height="5.75" fill="#d0d0d0" stroke="#4e4e4e" stroke-width="0.8"/>
<rect x="426.90" y="109.16" width="10.33" height="8.36" fill="#62be7a"/>
<rect x="436.63" y="109.16" width="10.33" height="8.36" fill="#81cb95"/>
<rect x="446.36" y="109.16" width="9.73" height="8.36" fill="#62be7a"/>
<rect x="400.85" y="110.11" width="17.00" height="5.75" fill="#d0d0d0" stroke="#4e4e4e" stroke-width="0.8"/>
<rect x="426.90" y="116.92" width="10.33" height="8.36" fill="#eff8f2"/>
<rect x="436.63" y="116.92" width="10.33" height="8.36" fill="#fff7f8"/>
<rect x="446.36" y="116.92" width="9.73" height="8.36" fill="#e6f5ea"/>
<rect x="400.85" y="117.87" width="1.50" height="5.75" fill="#d0d0d0" stroke="#4e4e4e" stroke-width="0.8"/>
<rect x="426.90" y="124.68" width="10.33" height="8.36" fill="#72c487"/>
<rect x="436.63" y="124.68" width="10.33" height="8.36" fill="#b8e2c3"/>
<rect x="446.36" y="124.68" width="9.73" height="8.36" fill="#62be7a"/>
<rect x="400.85" y="125.63" width="22.70" height="5.75" fill="#d0d0d0" stroke="#4e4e4e" stroke-width="0.8"/>
<rect x="426.90" y="132.44" width="10.33" height="8.36" fill="#62be7a"/>
<rect x="436.63" y="132.44" width="10.33" height="8.36" fill="#6ac181"/>
<rect x="446.36" y="132.44" width="9.73" height="8.36" fill="#62be7a"/>
<rect x="400.85" y="133.39" width="15.10" height="5.75" fill="#d0d0d0" stroke="#4e4e4e" stroke-width="0.8"/>
<rect x="426.90" y="140.20" width="10.33" height="8.36" fill="#62be7a"/>
<rect x="436.63" y="140.20" width="10.33" height="8.36" fill="#99d5a9"/>
<rect x="446.36" y="140.20" width="9.73" height="8.36" fill="#62be7a"/>
<rect x="400.85" y="141.15" width="22.70" height="5.75" fill="#d0d0d0" stroke="#4e4e4e" stroke-width="0.8"/>
<rect x="426.90" y="147.95" width="10.33" height="7.76" fill="#cbead3"/>
<rect x="436.63" y="147.95" width="10.33" height="7.76" fill="#f6fbf7"/>
<rect x="446.36" y="147.95" width="9.73" height="7.76" fill="#fed1d3"/>
<rect x="400.85" y="148.90" width="18.60" height="5.75" fill="#d0d0d0" stroke="#4e4e4e" stroke-width="0.8"/>
<rect x="426.90" y="163.47" width="10.33" height="7.76" fill="#f8f8fb"/>
<rect x="436.63" y="163.47" width="10.33" height="7.76" fill="#fee0e2"/>
<rect x="446.36" y="163.47" width="9.73" height="7.76" fill="#62be7a"/>
<rect x="400.85" y="164.42" width="23.80" height="5.75" fill="#d0d0d0" stroke="#4e4e4e" stroke-width="0.8"/>
<rect x="426.90" y="186.74" width="10.33" height="8.36" fill="#62be7a"/>
<rect x="436.63" y="186.74" width="10.33" height="8.36" fill="#62be7a"/>
<rect x="446.36" y="186.74" width="9.73" height="8.36" fill="#62be7a"/>
<rect x="400.85" y="187.69" width="22.60" height="5.75" fill="#d0d0d0" stroke="#4e4e4e" stroke-width="0.8"/>
<rect x="426.90" y="194.50" width="10.33" height="8.36" fill="#62be7a"/>
<rect x="436.63" y="194.50" width="10.33" height="8.36" fill="#7ac88e"/>
<rect x="446.36" y="194.50" width="9.73" height="8.36" fill="#62be7a"/>
<rect x="400.85" y="195.45" width="23.60" height="5.75" fill="#d0d0d0" stroke="#4e4e4e" stroke-width="0.8"/>
<rect x="426.90" y="202.26" width="10.33" height="7.76" fill="#62be7a"/>
<rect x="436.63" y="202.26" width="10.33" height="7.76" fill="#85cc97"/>
<rect x="446.36" y="202.26" width="9.73" height="7.76" fill="#62be7a"/>
<rect x="400.85" y="203.21" width="23.60" height="5.75" fill="#d0d0d0" stroke="#4e4e4e" stroke-width="0.8"/>
<rect x="426.90" y="225.53" width="10.33" height="8.36" fill="#cbead3"/>
<rect x="436.63" y="225.53" width="10.33" height="8.36" fill="#fedddf"/>
<rect x="446.36" y="225.53" width="9.73" height="8.36" fill="#d3edda"/>
<rect x="400.85" y="226.48" width="4.70" height="5.75" fill="#d0d0d0" stroke="#4e4e4e" stroke-width="0.8"/>
<rect x="426.90" y="233.29" width="10.33" height="8.36" fill="#f8f8fb"/>
<rect x="436.63" y="233.29" width="10.33" height="8.36" fill="#fef0f0"/>
<rect x="446.36" y="233.29" width="9.73" height="8.36" fill="#fa666c"/>
<rect x="400.85" y="234.24" width="25.50" height="5.75" fill="#d0d0d0" stroke="#4e4e4e" stroke-width="0.8"/>
<rect x="426.90" y="241.05" width="10.33" height="8.36" fill="#62be7a"/>
<rect x="436.63" y="241.05" width="10.33" height="8.36" fill="#a1d8af"/>
<rect x="446.36" y="241.05" width="9.73" height="8.36" fill="#62be7a"/>
<rect x="400.85" y="242.00" width="20.30" height="5.75" fill="#d0d0d0" stroke="#4e4e4e" stroke-width="0.8"/>
<rect x="426.90" y="248.81" width="10.33" height="8.36" fill="#81cb95"/>
<rect x="436.63" y="248.81" width="10.33" height="8.36" fill="#a1d8af"/>
<rect x="446.36" y="248.81" width="9.73" height="8.36" fill="#81cb95"/>
<rect x="400.85" y="249.76" width="9.30" height="5.75" fill="#d0d0d0" stroke="#4e4e4e" stroke-width="0.8"/>
<rect x="426.90" y="256.57" width="10.33" height="8.36" fill="#f8f8fb"/>
<rect x="436.63" y="256.57" width="10.33" height="8.36" fill="#fff6f6"/>
<rect x="446.36" y="256.57" width="9.73" height="8.36" fill="#fa666c"/>
<rect x="400.85" y="257.52" width="25.00" height="5.75" fill="#d0d0d0" stroke="#4e4e4e" stroke-width="0.8"/>
<rect x="426.90" y="264.32" width="10.33" height="7.76" fill="#a1d8af"/>
<rect x="436.63" y="264.32" width="10.33" height="7.76" fill="#c3e6cc"/>
<rect x="446.36" y="264.32" width="9.73" height="7.76" fill="#62be7a"/>
<rect x="400.85" y="265.27" width="25.30" height="5.75" fill="#d0d0d0" stroke="#4e4e4e" stroke-width="0.8"/>
<rect x="426.90" y="279.84" width="10.33" height="7.76" fill="#62be7a"/>
<rect x="436.63" y="279.84" width="10.33" height="7.76" fill="#72c487"/>
<rect x="446.36" y="279.84" width="9.73" height="7.76" fill="#62be7a"/>
<rect x="400.85" y="280.79" width="25.60" height="5.75" fill="#d0d0d0" stroke="#4e4e4e" stroke-width="0.8"/>
<text x="494.5" y="23.6" text-anchor="middle" font-size="5.4" font-weight="bold" fill="#222" stroke="#222" stroke-width="0.08">Batch3</text>
<line x1="465.9" y1="25.7" x2="523.0" y2="25.7" stroke="#6a6a6a" stroke-width="1.4"/>
<text transform="translate(481.2 46.9) rotate(-90)" font-size="5.7" font-weight="bold" fill="#1a1a1a" stroke="#1a1a1a" stroke-width="0.1" dominant-baseline="central" textLength="19.4" lengthAdjust="spacingAndGlyphs">Control</text>
<text transform="translate(499.9 46.9) rotate(-90)" font-size="5.7" font-weight="bold" fill="#1a1a1a" stroke="#1a1a1a" stroke-width="0.1" dominant-baseline="central" textLength="7.8" lengthAdjust="spacingAndGlyphs">0 V</text>
<text transform="translate(509.5 46.9) rotate(-90)" font-size="5.7" font-weight="bold" fill="#1a1a1a" stroke="#1a1a1a" stroke-width="0.1" dominant-baseline="central" textLength="12.5" lengthAdjust="spacingAndGlyphs">0.4 V</text>
<text transform="translate(519.1 46.9) rotate(-90)" font-size="5.7" font-weight="bold" fill="#1a1a1a" stroke="#1a1a1a" stroke-width="0.1" dominant-baseline="central" textLength="12.6" lengthAdjust="spacingAndGlyphs">EtOH</text>
<rect x="493.40" y="54.86" width="10.20" height="7.76" fill="#f8f8fb"/>
<rect x="503.00" y="54.86" width="10.20" height="7.76" fill="#e6f5ea"/>
<rect x="512.60" y="54.86" width="9.60" height="7.76" fill="#62be7a"/>
<rect x="466.95" y="55.81" width="22.60" height="5.75" fill="#d0d0d0" stroke="#4e4e4e" stroke-width="0.8"/>
<rect x="493.40" y="109.16" width="10.20" height="8.36" fill="#b8e2c3"/>
<rect x="503.00" y="109.16" width="10.20" height="8.36" fill="#e0f2e4"/>
<rect x="512.60" y="109.16" width="9.60" height="8.36" fill="#62be7a"/>
<rect x="466.95" y="110.11" width="19.10" height="5.75" fill="#d0d0d0" stroke="#4e4e4e" stroke-width="0.8"/>
<rect x="493.40" y="116.92" width="10.20" height="8.36" fill="#ecf7ef"/>
<rect x="503.00" y="116.92" width="10.20" height="8.36" fill="#f1f9f3"/>
<rect x="512.60" y="116.92" width="9.60" height="8.36" fill="#e0f2e4"/>
<rect x="466.95" y="117.87" width="2.80" height="5.75" fill="#d0d0d0" stroke="#4e4e4e" stroke-width="0.8"/>
<rect x="493.40" y="124.68" width="10.20" height="8.36" fill="#e6f5ea"/>
<rect x="503.00" y="124.68" width="10.20" height="8.36" fill="#ecf7ef"/>
<rect x="512.60" y="124.68" width="9.60" height="8.36" fill="#62be7a"/>
<rect x="466.95" y="125.63" width="25.90" height="5.75" fill="#d0d0d0" stroke="#4e4e4e" stroke-width="0.8"/>
<rect x="493.40" y="132.44" width="10.20" height="8.36" fill="#b0debc"/>
<rect x="503.00" y="132.44" width="10.20" height="8.36" fill="#e6f5ea"/>
<rect x="512.60" y="132.44" width="9.60" height="8.36" fill="#62be7a"/>
<rect x="466.95" y="133.39" width="21.30" height="5.75" fill="#d0d0d0" stroke="#4e4e4e" stroke-width="0.8"/>
<rect x="493.40" y="140.20" width="10.20" height="8.36" fill="#d8efde"/>
<rect x="503.00" y="140.20" width="10.20" height="8.36" fill="#ecf7ef"/>
<rect x="512.60" y="140.20" width="9.60" height="8.36" fill="#62be7a"/>
<rect x="466.95" y="141.15" width="25.90" height="5.75" fill="#d0d0d0" stroke="#4e4e4e" stroke-width="0.8"/>
<rect x="493.40" y="147.95" width="10.20" height="8.36" fill="#ecf7ef"/>
<rect x="503.00" y="147.95" width="10.20" height="8.36" fill="#f7fcf8"/>
<rect x="512.60" y="147.95" width="9.60" height="8.36" fill="#fed1d3"/>
<rect x="466.95" y="148.90" width="17.80" height="5.75" fill="#d0d0d0" stroke="#4e4e4e" stroke-width="0.8"/>
<rect x="493.40" y="155.71" width="10.20" height="8.36" fill="#f8f8fb"/>
<rect x="503.00" y="155.71" width="10.20" height="8.36" fill="#f8f8fb"/>
<rect x="512.60" y="155.71" width="9.60" height="8.36" fill="#ecf7ef"/>
<rect x="466.95" y="156.66" width="0.70" height="5.75" fill="#d0d0d0" stroke="#4e4e4e" stroke-width="0.8"/>
<rect x="493.40" y="163.47" width="10.20" height="7.76" fill="#fedddf"/>
<rect x="503.00" y="163.47" width="10.20" height="7.76" fill="#fef0f0"/>
<rect x="512.60" y="163.47" width="9.60" height="7.76" fill="#fed1d3"/>
<rect x="466.95" y="164.42" width="15.60" height="5.75" fill="#d0d0d0" stroke="#4e4e4e" stroke-width="0.8"/>
<rect x="493.40" y="186.74" width="10.20" height="8.36" fill="#b8e2c3"/>
<rect x="503.00" y="186.74" width="10.20" height="8.36" fill="#e0f2e4"/>
<rect x="512.60" y="186.74" width="9.60" height="8.36" fill="#62be7a"/>
<rect x="466.95" y="187.69" width="25.50" height="5.75" fill="#d0d0d0" stroke="#4e4e4e" stroke-width="0.8"/>
<rect x="493.40" y="194.50" width="10.20" height="8.36" fill="#b8e2c3"/>
<rect x="503.00" y="194.50" width="10.20" height="8.36" fill="#e0f2e4"/>
<rect x="512.60" y="194.50" width="9.60" height="8.36" fill="#62be7a"/>
<rect x="466.95" y="195.45" width="25.50" height="5.75" fill="#d0d0d0" stroke="#4e4e4e" stroke-width="0.8"/>
<rect x="493.40" y="202.26" width="10.20" height="7.76" fill="#bde4c7"/>
<rect x="503.00" y="202.26" width="10.20" height="7.76" fill="#e0f2e4"/>
<rect x="512.60" y="202.26" width="9.60" height="7.76" fill="#72c487"/>
<rect x="466.95" y="203.21" width="25.50" height="5.75" fill="#d0d0d0" stroke="#4e4e4e" stroke-width="0.8"/>
<rect x="493.40" y="225.53" width="10.20" height="8.36" fill="#f6fbf7"/>
<rect x="503.00" y="225.53" width="10.20" height="8.36" fill="#bde4c7"/>
<rect x="512.60" y="225.53" width="9.60" height="8.36" fill="#62be7a"/>
<rect x="466.95" y="226.48" width="18.70" height="5.75" fill="#d0d0d0" stroke="#4e4e4e" stroke-width="0.8"/>
<rect x="493.40" y="233.29" width="10.20" height="8.36" fill="#fedddf"/>
<rect x="503.00" y="233.29" width="10.20" height="8.36" fill="#fef0f0"/>
<rect x="512.60" y="233.29" width="9.60" height="8.36" fill="#fdc9cc"/>
<rect x="466.95" y="234.24" width="22.60" height="5.75" fill="#d0d0d0" stroke="#4e4e4e" stroke-width="0.8"/>
<rect x="493.40" y="241.05" width="10.20" height="8.36" fill="#ecf7ef"/>
<rect x="503.00" y="241.05" width="10.20" height="8.36" fill="#ecf7ef"/>
<rect x="512.60" y="241.05" width="9.60" height="8.36" fill="#62be7a"/>
<rect x="466.95" y="242.00" width="22.10" height="5.75" fill="#d0d0d0" stroke="#4e4e4e" stroke-width="0.8"/>
<rect x="493.40" y="248.81" width="10.20" height="8.36" fill="#ecf7ef"/>
<rect x="503.00" y="248.81" width="10.20" height="8.36" fill="#d5eddb"/>
<rect x="512.60" y="248.81" width="9.60" height="8.36" fill="#62be7a"/>
<rect x="466.95" y="249.76" width="17.10" height="5.75" fill="#d0d0d0" stroke="#4e4e4e" stroke-width="0.8"/>
<rect x="493.40" y="256.57" width="10.20" height="8.36" fill="#feeded"/>
<rect x="503.00" y="256.57" width="10.20" height="8.36" fill="#f8f8fb"/>
<rect x="512.60" y="256.57" width="9.60" height="8.36" fill="#f8f8fb"/>
<rect x="466.95" y="257.52" width="22.10" height="5.75" fill="#d0d0d0" stroke="#4e4e4e" stroke-width="0.8"/>
<rect x="493.40" y="264.32" width="10.20" height="7.76" fill="#ecf7ef"/>
<rect x="503.00" y="264.32" width="10.20" height="7.76" fill="#eff8f2"/>
<rect x="512.60" y="264.32" width="9.60" height="7.76" fill="#72c487"/>
<rect x="466.95" y="265.27" width="23.10" height="5.75" fill="#d0d0d0" stroke="#4e4e4e" stroke-width="0.8"/>
<rect x="493.40" y="279.84" width="10.20" height="7.76" fill="#b8e2c3"/>
<rect x="503.00" y="279.84" width="10.20" height="7.76" fill="#e6f5ea"/>
<rect x="512.60" y="279.84" width="9.60" height="7.76" fill="#62be7a"/>
<rect x="466.95" y="280.79" width="25.30" height="5.75" fill="#d0d0d0" stroke="#4e4e4e" stroke-width="0.8"/>
<rect x="397.7" y="3" width="127.2" height="287.3" rx="10" ry="10" fill="none" stroke="#6e6e6e" stroke-width="1.6"/>
<clipPath id="cp2"><rect x="538.0" y="3" width="126.8" height="287.3" rx="10" ry="10"/></clipPath>
<rect x="538.0" y="3" width="126.8" height="14.6" fill="#e8e0f1" clip-path="url(#cp2)"/>
<text x="601.7" y="14.6" text-anchor="middle" font-size="10.5" font-weight="bold" fill="#7534a8">B1_C1 bin22</text>
<text x="568.5" y="23.6" text-anchor="middle" font-size="5.4" font-weight="bold" fill="#222" stroke="#222" stroke-width="0.08">Batch1</text>
<line x1="540.0" y1="25.7" x2="596.9" y2="25.7" stroke="#6a6a6a" stroke-width="1.4"/>
<text transform="translate(555.4 46.9) rotate(-90)" font-size="5.7" font-weight="bold" fill="#1a1a1a" stroke="#1a1a1a" stroke-width="0.1" dominant-baseline="central" textLength="19.4" lengthAdjust="spacingAndGlyphs">Control</text>
<text transform="translate(573.8 46.9) rotate(-90)" font-size="5.7" font-weight="bold" fill="#1a1a1a" stroke="#1a1a1a" stroke-width="0.1" dominant-baseline="central" textLength="7.8" lengthAdjust="spacingAndGlyphs">0 V</text>
<text transform="translate(583.5 46.9) rotate(-90)" font-size="5.7" font-weight="bold" fill="#1a1a1a" stroke="#1a1a1a" stroke-width="0.1" dominant-baseline="central" textLength="12.5" lengthAdjust="spacingAndGlyphs">0.4 V</text>
<text transform="translate(593.2 46.9) rotate(-90)" font-size="5.7" font-weight="bold" fill="#1a1a1a" stroke="#1a1a1a" stroke-width="0.1" dominant-baseline="central" textLength="12.6" lengthAdjust="spacingAndGlyphs">EtOH</text>
<rect x="567.20" y="47.10" width="10.33" height="8.36" fill="#fb7d82"/>
<rect x="576.93" y="47.10" width="10.33" height="8.36" fill="#fdbabd"/>
<rect x="586.66" y="47.10" width="9.73" height="8.36" fill="#fb7d82"/>
<rect x="567.20" y="54.86" width="10.33" height="8.36" fill="#fcabae"/>
<rect x="576.93" y="54.86" width="10.33" height="8.36" fill="#fa666c"/>
<rect x="586.66" y="54.86" width="9.73" height="8.36" fill="#fa666c"/>
<rect x="541.15" y="55.81" width="6.70" height="5.75" fill="#d0d0d0" stroke="#4e4e4e" stroke-width="0.8"/>
<rect x="567.20" y="62.62" width="10.33" height="8.36" fill="#feebec"/>
<rect x="576.93" y="62.62" width="10.33" height="8.36" fill="#fb7d82"/>
<rect x="586.66" y="62.62" width="9.73" height="8.36" fill="#feeded"/>
<rect x="541.15" y="63.57" width="15.70" height="5.75" fill="#d0d0d0" stroke="#4e4e4e" stroke-width="0.8"/>
<rect x="567.20" y="70.37" width="10.33" height="8.36" fill="#d3edda"/>
<rect x="576.93" y="70.37" width="10.33" height="8.36" fill="#d3edda"/>
<rect x="586.66" y="70.37" width="9.73" height="8.36" fill="#fed1d3"/>
<rect x="541.15" y="71.32" width="11.00" height="5.75" fill="#d0d0d0" stroke="#4e4e4e" stroke-width="0.8"/>
<rect x="567.20" y="78.13" width="10.33" height="8.36" fill="#fdc5c7"/>
<rect x="576.93" y="78.13" width="10.33" height="8.36" fill="#fed1d3"/>
<rect x="586.66" y="78.13" width="9.73" height="8.36" fill="#fdbabd"/>
<rect x="541.15" y="79.08" width="11.00" height="5.75" fill="#d0d0d0" stroke="#4e4e4e" stroke-width="0.8"/>
<rect x="567.20" y="85.89" width="10.33" height="8.36" fill="#bde4c7"/>
<rect x="576.93" y="85.89" width="10.33" height="8.36" fill="#c6e8cf"/>
<rect x="586.66" y="85.89" width="9.73" height="8.36" fill="#dcf1e2"/>
<rect x="541.15" y="86.84" width="17.30" height="5.75" fill="#d0d0d0" stroke="#4e4e4e" stroke-width="0.8"/>
<rect x="567.20" y="93.65" width="10.33" height="7.76" fill="#f8f8fb"/>
<rect x="576.93" y="93.65" width="10.33" height="7.76" fill="#eff8f2"/>
<rect x="586.66" y="93.65" width="9.73" height="7.76" fill="#feeded"/>
<rect x="541.15" y="94.60" width="17.30" height="5.75" fill="#d0d0d0" stroke="#4e4e4e" stroke-width="0.8"/>
<rect x="567.20" y="109.16" width="10.33" height="8.36" fill="#fb7d82"/>
<rect x="576.93" y="109.16" width="10.33" height="8.36" fill="#fed1d3"/>
<rect x="586.66" y="109.16" width="9.73" height="8.36" fill="#fa666c"/>
<rect x="541.15" y="110.11" width="3.30" height="5.75" fill="#d0d0d0" stroke="#4e4e4e" stroke-width="0.8"/>
<rect x="567.20" y="116.92" width="10.33" height="7.76" fill="#fed1d3"/>
<rect x="576.93" y="116.92" width="10.33" height="7.76" fill="#fdc2c4"/>
<rect x="586.66" y="116.92" width="9.73" height="7.76" fill="#fdc2c4"/>
<rect x="541.15" y="117.87" width="5.00" height="5.75" fill="#d0d0d0" stroke="#4e4e4e" stroke-width="0.8"/>
<rect x="567.20" y="147.95" width="10.33" height="8.36" fill="#f8f8fb"/>
<rect x="576.93" y="147.95" width="10.33" height="8.36" fill="#cbead3"/>
<rect x="586.66" y="147.95" width="9.73" height="8.36" fill="#fff3f3"/>
<rect x="541.15" y="148.90" width="12.30" height="5.75" fill="#d0d0d0" stroke="#4e4e4e" stroke-width="0.8"/>
<rect x="567.20" y="155.71" width="10.33" height="8.36" fill="#fb7d82"/>
<rect x="576.93" y="155.71" width="10.33" height="8.36" fill="#fb7d82"/>
<rect x="586.66" y="155.71" width="9.73" height="8.36" fill="#fb7d82"/>
<rect x="541.15" y="156.66" width="9.60" height="5.75" fill="#d0d0d0" stroke="#4e4e4e" stroke-width="0.8"/>
<rect x="567.20" y="163.47" width="10.33" height="8.36" fill="#fcb2b6"/>
<rect x="576.93" y="163.47" width="10.33" height="8.36" fill="#fdbabd"/>
<rect x="586.66" y="163.47" width="9.73" height="8.36" fill="#fdc2c4"/>
<rect x="541.15" y="164.42" width="8.30" height="5.75" fill="#d0d0d0" stroke="#4e4e4e" stroke-width="0.8"/>
<rect x="567.20" y="171.23" width="10.33" height="7.76" fill="#fff3f3"/>
<rect x="576.93" y="171.23" width="10.33" height="7.76" fill="#eff8f2"/>
<rect x="586.66" y="171.23" width="9.73" height="7.76" fill="#f8f8fb"/>
<rect x="541.15" y="172.18" width="15.10" height="5.75" fill="#d0d0d0" stroke="#4e4e4e" stroke-width="0.8"/>
<rect x="567.20" y="186.74" width="10.33" height="8.36" fill="#f8f8fb"/>
<rect x="576.93" y="186.74" width="10.33" height="8.36" fill="#f6fbf7"/>
<rect x="586.66" y="186.74" width="9.73" height="8.36" fill="#feeaea"/>
<rect x="541.15" y="187.69" width="9.30" height="5.75" fill="#d0d0d0" stroke="#4e4e4e" stroke-width="0.8"/>
<rect x="567.20" y="194.50" width="10.33" height="8.36" fill="#fed1d3"/>
<rect x="576.93" y="194.50" width="10.33" height="8.36" fill="#fed1d3"/>
<rect x="586.66" y="194.50" width="9.73" height="8.36" fill="#f8f8fb"/>
<rect x="541.15" y="195.45" width="5.50" height="5.75" fill="#d0d0d0" stroke="#4e4e4e" stroke-width="0.8"/>
<rect x="567.20" y="202.26" width="10.33" height="7.76" fill="#fdbabd"/>
<rect x="576.93" y="202.26" width="10.33" height="7.76" fill="#fdbabd"/>
<rect x="586.66" y="202.26" width="9.73" height="7.76" fill="#fb7d82"/>
<rect x="541.15" y="203.21" width="6.50" height="5.75" fill="#d0d0d0" stroke="#4e4e4e" stroke-width="0.8"/>
<rect x="567.20" y="225.53" width="10.33" height="8.36" fill="#fa666c"/>
<rect x="576.93" y="225.53" width="10.33" height="8.36" fill="#fa666c"/>
<rect x="586.66" y="225.53" width="9.73" height="8.36" fill="#fa666c"/>
<rect x="567.20" y="233.29" width="10.33" height="7.76" fill="#fc9c9f"/>
<rect x="576.93" y="233.29" width="10.33" height="7.76" fill="#fed1d3"/>
<rect x="586.66" y="233.29" width="9.73" height="7.76" fill="#fb7d82"/>
<rect x="541.15" y="234.24" width="5.50" height="5.75" fill="#d0d0d0" stroke="#4e4e4e" stroke-width="0.8"/>
<rect x="567.20" y="256.57" width="10.33" height="7.76" fill="#fdbabd"/>
<rect x="576.93" y="256.57" width="10.33" height="7.76" fill="#fdbabd"/>
<rect x="586.66" y="256.57" width="9.73" height="7.76" fill="#fca3a7"/>
<rect x="541.15" y="257.52" width="10.30" height="5.75" fill="#d0d0d0" stroke="#4e4e4e" stroke-width="0.8"/>
<rect x="567.20" y="279.84" width="10.33" height="7.76" fill="#fee3e5"/>
<rect x="576.93" y="279.84" width="10.33" height="7.76" fill="#fdc2c4"/>
<rect x="586.66" y="279.84" width="9.73" height="7.76" fill="#fb7d82"/>
<rect x="541.15" y="280.79" width="8.30" height="5.75" fill="#d0d0d0" stroke="#4e4e4e" stroke-width="0.8"/>
<text x="634.8" y="23.6" text-anchor="middle" font-size="5.4" font-weight="bold" fill="#222" stroke="#222" stroke-width="0.08">Batch3</text>
<line x1="606.2" y1="25.7" x2="663.3" y2="25.7" stroke="#6a6a6a" stroke-width="1.4"/>
<text transform="translate(621.5 46.9) rotate(-90)" font-size="5.7" font-weight="bold" fill="#1a1a1a" stroke="#1a1a1a" stroke-width="0.1" dominant-baseline="central" textLength="19.4" lengthAdjust="spacingAndGlyphs">Control</text>
<text transform="translate(640.2 46.9) rotate(-90)" font-size="5.7" font-weight="bold" fill="#1a1a1a" stroke="#1a1a1a" stroke-width="0.1" dominant-baseline="central" textLength="7.8" lengthAdjust="spacingAndGlyphs">0 V</text>
<text transform="translate(649.8 46.9) rotate(-90)" font-size="5.7" font-weight="bold" fill="#1a1a1a" stroke="#1a1a1a" stroke-width="0.1" dominant-baseline="central" textLength="12.5" lengthAdjust="spacingAndGlyphs">0.4 V</text>
<text transform="translate(659.4 46.9) rotate(-90)" font-size="5.7" font-weight="bold" fill="#1a1a1a" stroke="#1a1a1a" stroke-width="0.1" dominant-baseline="central" textLength="12.6" lengthAdjust="spacingAndGlyphs">EtOH</text>
<rect x="633.70" y="47.10" width="10.20" height="8.36" fill="#fdbabd"/>
<rect x="643.30" y="47.10" width="10.20" height="8.36" fill="#fdc9cc"/>
<rect x="652.90" y="47.10" width="9.60" height="8.36" fill="#fb7d82"/>
<rect x="607.25" y="48.05" width="1.50" height="5.75" fill="#d0d0d0" stroke="#4e4e4e" stroke-width="0.8"/>
<rect x="633.70" y="54.86" width="10.20" height="8.36" fill="#fff7f8"/>
<rect x="643.30" y="54.86" width="10.20" height="8.36" fill="#fff7f8"/>
<rect x="652.90" y="54.86" width="9.60" height="8.36" fill="#fff1f2"/>
<rect x="607.25" y="55.81" width="23.30" height="5.75" fill="#d0d0d0" stroke="#4e4e4e" stroke-width="0.8"/>
<rect x="633.70" y="62.62" width="10.20" height="8.36" fill="#fcb2b6"/>
<rect x="643.30" y="62.62" width="10.20" height="8.36" fill="#fc9c9f"/>
<rect x="652.90" y="62.62" width="9.60" height="8.36" fill="#fdc2c4"/>
<rect x="607.25" y="63.57" width="16.20" height="5.75" fill="#d0d0d0" stroke="#4e4e4e" stroke-width="0.8"/>
<rect x="633.70" y="70.37" width="10.20" height="8.36" fill="#d9efdf"/>
<rect x="643.30" y="70.37" width="10.20" height="8.36" fill="#d9efdf"/>
<rect x="652.90" y="70.37" width="9.60" height="8.36" fill="#feeded"/>
<rect x="607.25" y="71.32" width="6.50" height="5.75" fill="#d0d0d0" stroke="#4e4e4e" stroke-width="0.8"/>
<rect x="633.70" y="78.13" width="10.20" height="8.36" fill="#feeaea"/>
<rect x="643.30" y="78.13" width="10.20" height="8.36" fill="#feeded"/>
<rect x="652.90" y="78.13" width="9.60" height="8.36" fill="#fdc9cc"/>
<rect x="607.25" y="79.08" width="8.30" height="5.75" fill="#d0d0d0" stroke="#4e4e4e" stroke-width="0.8"/>
<rect x="633.70" y="85.89" width="10.20" height="8.36" fill="#fed1d3"/>
<rect x="643.30" y="85.89" width="10.20" height="8.36" fill="#fed1d3"/>
<rect x="652.90" y="85.89" width="9.60" height="8.36" fill="#feeded"/>
<rect x="607.25" y="86.84" width="10.50" height="5.75" fill="#d0d0d0" stroke="#4e4e4e" stroke-width="0.8"/>
<rect x="633.70" y="93.65" width="10.20" height="7.76" fill="#feeded"/>
<rect x="643.30" y="93.65" width="10.20" height="7.76" fill="#fff1f2"/>
<rect x="652.90" y="93.65" width="9.60" height="7.76" fill="#fed1d3"/>
<rect x="607.25" y="94.60" width="11.40" height="5.75" fill="#d0d0d0" stroke="#4e4e4e" stroke-width="0.8"/>
<rect x="633.70" y="109.16" width="10.20" height="8.36" fill="#b8e2c3"/>
<rect x="643.30" y="109.16" width="10.20" height="8.36" fill="#c0e5ca"/>
<rect x="652.90" y="109.16" width="9.60" height="8.36" fill="#f6fbf7"/>
<rect x="607.25" y="110.11" width="20.30" height="5.75" fill="#d0d0d0" stroke="#4e4e4e" stroke-width="0.8"/>
<rect x="633.70" y="116.92" width="10.20" height="7.76" fill="#fff1f2"/>
<rect x="643.30" y="116.92" width="10.20" height="7.76" fill="#fff1f2"/>
<rect x="652.90" y="116.92" width="9.60" height="7.76" fill="#fee3e5"/>
<rect x="607.25" y="117.87" width="7.50" height="5.75" fill="#d0d0d0" stroke="#4e4e4e" stroke-width="0.8"/>
<rect x="633.70" y="147.95" width="10.20" height="8.36" fill="#e0f2e4"/>
<rect x="643.30" y="147.95" width="10.20" height="8.36" fill="#e0f2e4"/>
<rect x="652.90" y="147.95" width="9.60" height="8.36" fill="#fff1f2"/>
<rect x="607.25" y="148.90" width="8.60" height="5.75" fill="#d0d0d0" stroke="#4e4e4e" stroke-width="0.8"/>
<rect x="633.70" y="155.71" width="10.20" height="8.36" fill="#f6fbf7"/>
<rect x="643.30" y="155.71" width="10.20" height="8.36" fill="#f8f8fb"/>
<rect x="652.90" y="155.71" width="9.60" height="8.36" fill="#fb7d82"/>
<rect x="607.25" y="156.66" width="9.30" height="5.75" fill="#d0d0d0" stroke="#4e4e4e" stroke-width="0.8"/>
<rect x="633.70" y="163.47" width="10.20" height="8.36" fill="#feeded"/>
<rect x="643.30" y="163.47" width="10.20" height="8.36" fill="#feeded"/>
<rect x="652.90" y="163.47" width="9.60" height="8.36" fill="#fff1f2"/>
<rect x="607.25" y="164.42" width="11.60" height="5.75" fill="#d0d0d0" stroke="#4e4e4e" stroke-width="0.8"/>
<rect x="633.70" y="171.23" width="10.20" height="7.76" fill="#fff1f2"/>
<rect x="643.30" y="171.23" width="10.20" height="7.76" fill="#fff1f2"/>
<rect x="652.90" y="171.23" width="9.60" height="7.76" fill="#fed1d3"/>
<rect x="607.25" y="172.18" width="4.70" height="5.75" fill="#d0d0d0" stroke="#4e4e4e" stroke-width="0.8"/>
<rect x="633.70" y="186.74" width="10.20" height="8.36" fill="#d9efdf"/>
<rect x="643.30" y="186.74" width="10.20" height="8.36" fill="#c6e8cf"/>
<rect x="652.90" y="186.74" width="9.60" height="8.36" fill="#fff1f2"/>
<rect x="607.25" y="187.69" width="7.40" height="5.75" fill="#d0d0d0" stroke="#4e4e4e" stroke-width="0.8"/>
<rect x="633.70" y="194.50" width="10.20" height="8.36" fill="#fedddf"/>
<rect x="643.30" y="194.50" width="10.20" height="8.36" fill="#fff4f5"/>
<rect x="652.90" y="194.50" width="9.60" height="8.36" fill="#fedddf"/>
<rect x="607.25" y="195.45" width="2.20" height="5.75" fill="#d0d0d0" stroke="#4e4e4e" stroke-width="0.8"/>
<rect x="633.70" y="202.26" width="10.20" height="7.76" fill="#fed1d3"/>
<rect x="643.30" y="202.26" width="10.20" height="7.76" fill="#feeaea"/>
<rect x="652.90" y="202.26" width="9.60" height="7.76" fill="#fdbabd"/>
<rect x="607.25" y="203.21" width="11.30" height="5.75" fill="#d0d0d0" stroke="#4e4e4e" stroke-width="0.8"/>
<rect x="633.70" y="225.53" width="10.20" height="8.36" fill="#fcb2b6"/>
<rect x="643.30" y="225.53" width="10.20" height="8.36" fill="#fedddf"/>
<rect x="652.90" y="225.53" width="9.60" height="8.36" fill="#fedddf"/>
<rect x="607.25" y="226.48" width="10.30" height="5.75" fill="#d0d0d0" stroke="#4e4e4e" stroke-width="0.8"/>
<rect x="633.70" y="233.29" width="10.20" height="7.76" fill="#e6f5ea"/>
<rect x="643.30" y="233.29" width="10.20" height="7.76" fill="#e6f5ea"/>
<rect x="652.90" y="233.29" width="9.60" height="7.76" fill="#fff1f2"/>
<rect x="607.25" y="234.24" width="19.60" height="5.75" fill="#d0d0d0" stroke="#4e4e4e" stroke-width="0.8"/>
<rect x="633.70" y="256.57" width="10.20" height="7.76" fill="#fa666c"/>
<rect x="643.30" y="256.57" width="10.20" height="7.76" fill="#fc9c9f"/>
<rect x="652.90" y="256.57" width="9.60" height="7.76" fill="#fcb2b6"/>
<rect x="607.25" y="257.52" width="6.30" height="5.75" fill="#d0d0d0" stroke="#4e4e4e" stroke-width="0.8"/>
<rect x="633.70" y="279.84" width="10.20" height="7.76" fill="#ecf7ef"/>
<rect x="643.30" y="279.84" width="10.20" height="7.76" fill="#ecf7ef"/>
<rect x="652.90" y="279.84" width="9.60" height="7.76" fill="#feeded"/>
<rect x="607.25" y="280.79" width="20.20" height="5.75" fill="#d0d0d0" stroke="#4e4e4e" stroke-width="0.8"/>
<rect x="538.0" y="3" width="126.8" height="287.3" rx="10" ry="10" fill="none" stroke="#6e6e6e" stroke-width="1.6"/>
</svg></body></html>
